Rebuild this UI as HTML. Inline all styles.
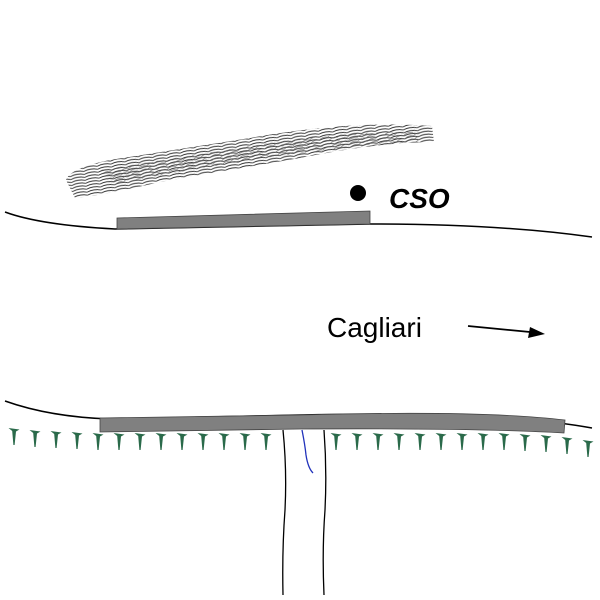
<!DOCTYPE html>
<html><head><meta charset="utf-8"><style>
html,body{margin:0;padding:0;background:#fff;width:600px;height:600px;overflow:hidden}
</style></head><body>
<svg width="600" height="600" viewBox="0 0 600 600" xmlns="http://www.w3.org/2000/svg">
<defs>
<pattern id="h" width="14" height="3" patternUnits="userSpaceOnUse" patternTransform="rotate(-9)">
<path d="M0 2.5 Q7 0 14 2.5" fill="none" stroke="#333" stroke-width="0.9"/>
</pattern>
<pattern id="h2" width="9" height="3.5" patternUnits="userSpaceOnUse" patternTransform="rotate(-20)">
<path d="M0 3 Q4.5 0.5 9 3" fill="none" stroke="#555" stroke-width="0.7"/>
</pattern>
</defs>
<path d="M66 180 Q70 168 110 160 L250 138 Q350 120 432 126 L434 142 Q380 142 300 158 L160 182 Q100 196 75 198 Z" fill="url(#h)"/>
<path d="M100 170 L250 146 Q350 130 420 132 L418 142 Q350 146 250 160 L110 184 Z" fill="url(#h2)" opacity="0.8"/>
<path d="M5 212 Q40 225 115 229 L370 224 Q500 224 592 237" fill="none" stroke="#000" stroke-width="1.5"/>
<path d="M117 218 L370 211 L370 224 L117 229 Z" fill="#808080" stroke="#444" stroke-width="0.8"/>
<circle cx="358" cy="193" r="8" fill="#000"/>
<text x="389" y="208" font-family="Liberation Sans, sans-serif" font-size="28" font-weight="bold" font-style="italic">CSO</text>
<text x="327" y="337" font-family="Liberation Sans, sans-serif" font-size="28">Cagliari</text>
<line x1="468" y1="326" x2="530" y2="332" stroke="#000" stroke-width="1.8"/>
<path d="M545 334 L528 338 L530 327 Z" fill="#000"/>
<path d="M5 401 Q50 417 110 419 L300 415 Q500 411 592 428" fill="none" stroke="#000" stroke-width="1.5"/>
<path d="M100 418 L300 415 Q480 410 565 420 L564 433 Q480 428 300 429 L100 432 Z" fill="#808080" stroke="#444" stroke-width="0.8"/>
<path d="M283 430 Q287 470 285 510 Q282 550 283 595" fill="none" stroke="#000" stroke-width="1.3"/>
<path d="M324 430 Q327 470 325 510 Q322 550 324 595" fill="none" stroke="#000" stroke-width="1.3"/>
<path d="M302 430 Q305 445 306 455 Q308 468 313 473" fill="none" stroke="#2233bb" stroke-width="1.3"/>
<g fill="#2a6a4a">
<path id="t" d="M-5.5 0 L5.5 1.5 L2 3.5 L0.6 17 L-0.6 17 L-1.8 3 Z" transform="translate(14,428)"/>
<use href="#t" x="21" y="2"/><use href="#t" x="42" y="3"/><use href="#t" x="63" y="4"/><use href="#t" x="84" y="5"/>
<use href="#t" x="105" y="5"/><use href="#t" x="126" y="5"/><use href="#t" x="147" y="5"/><use href="#t" x="168" y="5"/>
<use href="#t" x="189" y="5"/><use href="#t" x="210" y="5"/><use href="#t" x="231" y="5"/><use href="#t" x="252" y="5"/>
<use href="#t" x="322" y="5"/><use href="#t" x="343" y="5"/><use href="#t" x="364" y="5"/><use href="#t" x="385" y="5"/>
<use href="#t" x="406" y="5"/><use href="#t" x="427" y="5"/><use href="#t" x="448" y="5"/><use href="#t" x="469" y="5"/>
<use href="#t" x="490" y="5"/><use href="#t" x="511" y="6"/><use href="#t" x="532" y="7"/><use href="#t" x="553" y="9"/>
<use href="#t" x="574" y="12"/>
</g>
</svg>
</body></html>
